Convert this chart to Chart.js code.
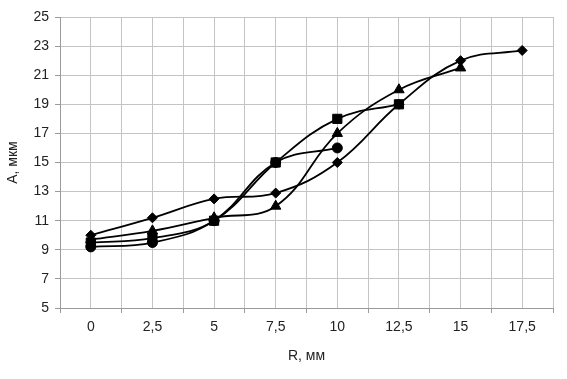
<!DOCTYPE html>
<html>
<head>
<meta charset="utf-8">
<script src="https://cdn.jsdelivr.net/npm/chart.js@4.4.0/dist/chart.umd.min.js"></script>
<style>
  html, body { margin: 0; padding: 0; background: #fff; }
  #wrap { width: 567px; height: 379px; }
</style>
</head>
<body>
<div id="wrap"><canvas id="myChart" width="567" height="379"></canvas></div>
<script>
// R, mm
var rValues = [0, 2.5, 5, 7.5, 10, 12.5, 15, 17.5];

// A, um for each series (null = no point)
var seriesDiamond  = [10, 11.2, 12.5, 12.9, 15, 19, 22, 22.7];
var seriesSquare   = [9.5, 9.8, 11, 15, 18, 19, null, null];
var seriesTriangle = [9.7, 10.3, 11.2, 12, 17, 20, 21.5, null];
var seriesCircle   = [9.2, 9.5, 11, 15, 16, null, null, null];

var yTicks = [5, 7, 9, 11, 13, 15, 17, 19, 21, 23, 25];

function toPoints(vals) {
  var pts = [];
  for (var i = 0; i < rValues.length; i++) {
    if (vals[i] !== null) pts.push({ x: rValues[i], y: vals[i] });
  }
  return pts;
}

function makeSet(label, vals, style, radius) {
  return {
    label: label,
    data: toPoints(vals),
    borderColor: '#000',
    backgroundColor: '#000',
    borderWidth: 1.8,
    pointStyle: style,
    pointRadius: radius,
    pointBorderWidth: 1,
    tension: 0.4,
    fill: false
  };
}

var font = { family: 'Liberation Sans, Arial, sans-serif', size: 14 };

var ctx = document.getElementById('myChart').getContext('2d');
var chart = new Chart(ctx, {
  type: 'line',
  data: {
    datasets: [
      makeSet('1', seriesDiamond, 'rectRot', 5),
      makeSet('2', seriesSquare, 'rect', 6.5),
      makeSet('3', seriesTriangle, 'triangle', 6),
      makeSet('4', seriesCircle, 'circle', 5)
    ]
  },
  options: {
    responsive: false,
    animation: false,
    layout: { padding: { top: 17, right: 14, left: 0, bottom: 10 } },
    plugins: { legend: { display: false }, tooltip: { enabled: false } },
    scales: {
      x: {
        type: 'linear',
        min: -1.25,
        max: 18.75,
        afterBuildTicks: function (scale) {
          var t = [];
          for (var k = 0; k <= 16; k++) t.push({ value: -1.25 + 1.25 * k });
          scale.ticks = t;
        },
        afterFit: function (scale) { scale.height = 61; },
        grid: {
          color: '#c4c4c4',
          lineWidth: 1,
          tickLength: 5,
          tickColor: function (c) {
            var v = c.tick ? c.tick.value : 0;
            return Math.abs((v + 1.25) % 2.5) < 1e-6 ? '#9a9a9a' : 'rgba(0,0,0,0)';
          }
        },
        border: { color: '#9a9a9a' },
        ticks: {
          autoSkip: false,
          maxRotation: 0,
          padding: 6,
          color: '#222',
          font: font,
          callback: function (v) {
            if (Math.abs(v % 2.5) < 1e-6 && v >= 0 && v <= 17.5) return String(v).replace('.', ',');
            return '';
          }
        },
        title: { display: true, text: 'R, мм', color: '#222', font: font, padding: { top: 6 } }
      },
      y: {
        min: 5,
        max: 25,
        afterBuildTicks: function (scale) {
          scale.ticks = yTicks.map(function (v) { return { value: v }; });
        },
        afterFit: function (scale) { scale.width = 60; },
        grid: { color: '#c4c4c4', tickLength: 5, tickColor: '#9a9a9a' },
        border: { color: '#9a9a9a' },
        ticks: { padding: 6, color: '#222', font: font },
        title: { display: true, text: 'А, мкм', color: '#222', font: font, padding: { top: 5, bottom: 0 } }
      }
    }
  }
});
</script>
</body>
</html>
